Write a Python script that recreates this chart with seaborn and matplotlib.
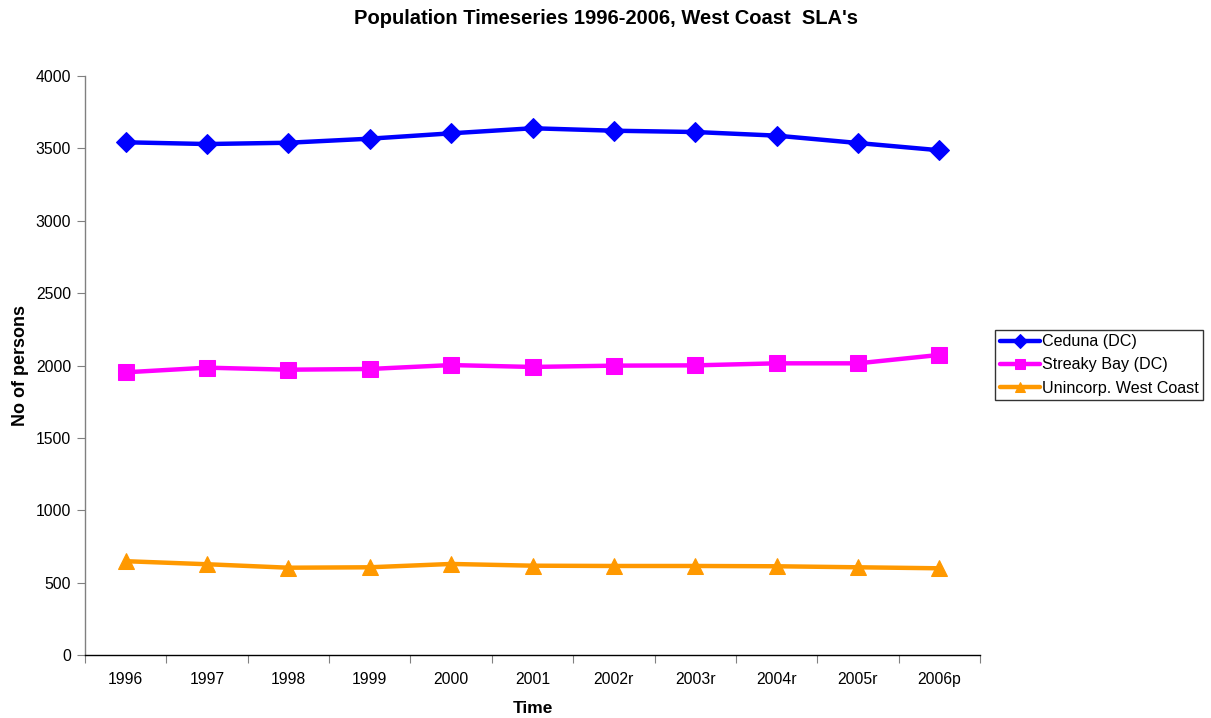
import matplotlib
matplotlib.use("Agg")
import matplotlib.pyplot as plt
import seaborn as sns
import pandas as pd
import numpy as np

years = ["1996", "1997", "1998", "1999", "2000", "2001",
         "2002r", "2003r", "2004r", "2005r", "2006p"]
ceduna = [3542, 3530, 3539, 3567, 3604, 3639, 3622, 3613, 3588, 3537, 3487]
streaky_bay = [1953, 1985, 1971, 1976, 2003, 1990, 1999, 2001, 2015, 2015, 2073]
unincorp = [648, 627, 603, 606, 629, 617, 615, 615, 613, 606, 599]

series_names = ["Ceduna (DC)", "Streaky Bay (DC)", "Unincorp. West Coast"]
series_values = [ceduna, streaky_bay, unincorp]
colors = ["#0000FF", "#FF00FF", "#FF9900"]
markers = ["D", "s", "^"]
msizes = [10, 11, 12]

sns.set_style("white")
plt.rcParams["font.family"] = ["Liberation Sans", "DejaVu Sans"]
plt.rcParams["text.color"] = "black"
plt.rcParams["axes.labelcolor"] = "black"
plt.rcParams["xtick.color"] = "black"
plt.rcParams["ytick.color"] = "black"

fig = plt.figure(figsize=(12.11, 7.18), dpi=100)
ax = fig.add_axes([85 / 1211, 1 - 655 / 718, (980 - 85) / 1211, (655 - 76) / 718])

x = np.arange(len(years))
for name, vals, c, m, ms in zip(series_names, series_values, colors, markers, msizes):
    df = pd.DataFrame({"x": x, "y": vals})
    sns.lineplot(data=df, x="x", y="y", ax=ax, color=c, linewidth=3.2,
                 marker=m, markersize=ms, markeredgecolor=c, label=name)

ax.set_xlim(-0.5, len(years) - 0.5)
ax.set_ylim(0, 4000)
ax.set_yticks(range(0, 4001, 500))
ax.set_xticks(x)
ax.set_xticklabels(years)
ax.set_xticks(np.arange(-0.5, len(years), 1.0), minor=True)
ax.tick_params(axis="x", which="major", length=0, pad=12, labelsize=11.3, labelcolor="black")
ax.tick_params(axis="x", which="minor", length=6, width=0.8, color="#808080", direction="out")
ax.tick_params(axis="y", which="major", length=6, width=0.8, color="#808080", direction="out",
               labelsize=11.3, labelcolor="black", pad=4)
ax.tick_params(bottom=True, left=True)
ax.xaxis.set_tick_params(which="minor", bottom=True)

for s in ["top", "right"]:
    ax.spines[s].set_visible(False)
ax.spines["left"].set_color("#808080")
ax.spines["left"].set_linewidth(1)
ax.spines["bottom"].set_color("black")
ax.spines["bottom"].set_linewidth(1)

ax.set_xlabel("Time", fontsize=12.5, fontweight="bold", labelpad=10)
ax.set_ylabel("No of persons", fontsize=13, fontweight="bold", labelpad=4.5)
fig.suptitle("Population Timeseries 1996-2006, West Coast  SLA's", fontsize=14.5,
             fontweight="bold", y=1 - 19 / 718, va="center")

leg = ax.legend(loc="center left", bbox_to_anchor=(995 / 1211, 1 - 365 / 718),
                bbox_transform=fig.transFigure, frameon=True, fancybox=False,
                fontsize=11.6, handlelength=2.5, handletextpad=0.1,
                borderpad=0.3, labelspacing=0.5, borderaxespad=0)
leg.get_frame().set_edgecolor("black")
leg.get_frame().set_linewidth(1)
for h in leg.legend_handles:
    h.set_markersize(7)

fig.savefig("out.png", dpi=100)
